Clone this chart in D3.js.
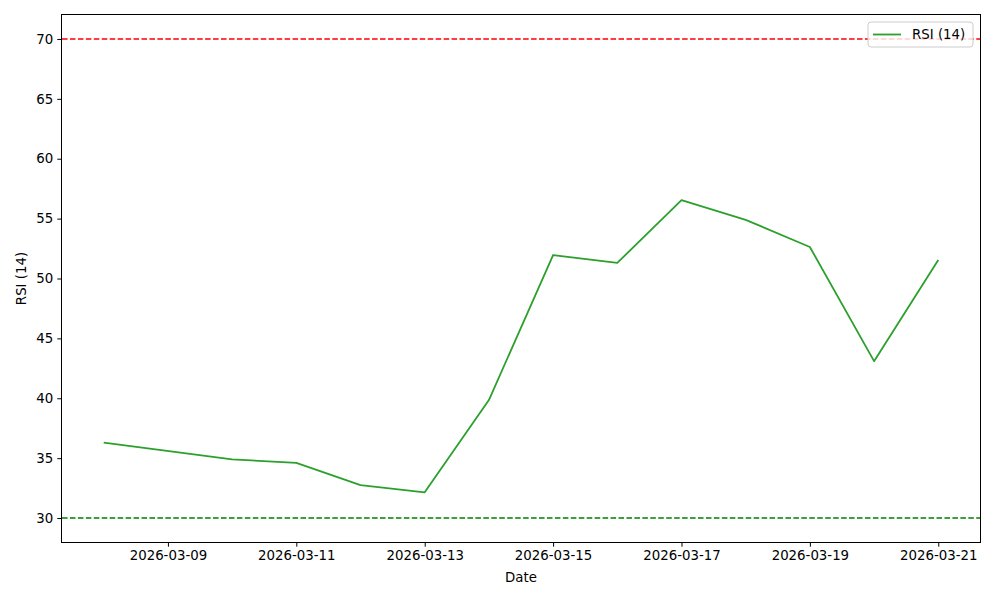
<!DOCTYPE html>
<html>
<head>
<meta charset="utf-8">
<script src="https://cdn.jsdelivr.net/npm/d3@7"></script>
<style>
  body { margin: 0; background: #fff; }
  text { font-family: "DejaVu Sans", sans-serif; }
</style>
</head>
<body>
<div id="chart"></div>
<script>
const width = 1000;
const height = 600;
const margin = {top: 15, right: 20, bottom: 58, left: 62};

// RSI readings per day
const dates = ['2026-03-08', '2026-03-10', '2026-03-11', '2026-03-12', '2026-03-13', '2026-03-14',
    '2026-03-15', '2026-03-16', '2026-03-17', '2026-03-18', '2026-03-19', '2026-03-20', '2026-03-21'];
const rsi = [36.3, 34.9, 34.6, 32.75, 32.15, 39.85, 51.96, 51.3, 56.55, 54.9, 52.63, 43.1, 51.55];
const tickDates = ['2026-03-09', '2026-03-11', '2026-03-13', '2026-03-15', '2026-03-17', '2026-03-19', '2026-03-21'];
const yTicks = [30, 35, 40, 45, 50, 55, 60, 65, 70];
const overbought = 70;
const oversold = 30;

const parse = d3.utcParse('%Y-%m-%d');
const data = dates.map((d, i) => ({date: parse(d), value: rsi[i]}));

const svg = d3.select('#chart').append('svg')
    .attr('width', width)
    .attr('height', height);

const x0 = parse(dates[0]);
const x1 = parse(dates[dates.length - 1]);
const pad = (x1 - x0) * 0.05;
const x = d3.scaleUtc()
    .domain([new Date(+x0 - pad), new Date(+x1 + pad)])
    .range([margin.left, width - margin.right]);

const y = d3.scaleLinear()
    .domain([28, 72])
    .range([height - margin.bottom, margin.top]);

// threshold lines
svg.append('line')
    .attr('x1', margin.left).attr('x2', width - margin.right)
    .attr('y1', y(overbought)).attr('y2', y(overbought))
    .attr('stroke', '#ff0000')
    .attr('stroke-width', 1.6)
    .attr('stroke-dasharray', '5.55,2.4');

svg.append('line')
    .attr('x1', margin.left).attr('x2', width - margin.right)
    .attr('y1', y(oversold)).attr('y2', y(oversold))
    .attr('stroke', '#008000')
    .attr('stroke-width', 1.6)
    .attr('stroke-dasharray', '5.55,2.4');

const line = d3.line()
    .x(d => x(d.date))
    .y(d => y(d.value));

svg.append('path')
    .datum(data)
    .attr('fill', 'none')
    .attr('stroke', '#2ca02c')
    .attr('stroke-width', 1.8)
    .attr('stroke-linejoin', 'round')
    .attr('d', line);

// axes
const xAxis = svg.append('g')
    .attr('transform', `translate(0,${height - margin.bottom})`)
    .call(d3.axisBottom(x)
        .tickValues(tickDates.map(parse))
        .tickFormat(d3.utcFormat('%Y-%m-%d'))
        .tickSizeOuter(0)
        .tickSize(4.7)
        .tickPadding(4));

const yAxis = svg.append('g')
    .attr('transform', `translate(${margin.left},0)`)
    .call(d3.axisLeft(y)
        .tickValues(yTicks)
        .tickSizeOuter(0)
        .tickSize(4.7)
        .tickPadding(4));

[xAxis, yAxis].forEach(g => {
    g.select('.domain').remove();
    g.selectAll('.tick line').attr('stroke', '#000').attr('stroke-width', 1);
    g.selectAll('.tick text')
        .attr('fill', '#000')
        .attr('font-size', '13.33px')
        .attr('font-family', 'DejaVu Sans');
});

// frame
svg.append('rect')
    .attr('x', margin.left - 0.5)
    .attr('y', margin.top - 0.5)
    .attr('width', width - margin.left - margin.right + 1)
    .attr('height', height - margin.top - margin.bottom + 1)
    .attr('fill', 'none')
    .attr('stroke', '#000')
    .attr('stroke-width', 1);

svg.append('text')
    .attr('x', (margin.left + width - margin.right) / 2)
    .attr('y', 582)
    .attr('text-anchor', 'middle')
    .attr('font-size', '13.33px')
    .text('Date');

svg.append('text')
    .attr('transform', `translate(26,${(margin.top + height - margin.bottom) / 2}) rotate(-90)`)
    .attr('text-anchor', 'middle')
    .attr('font-size', '13.33px')
    .text('RSI (14)');

// legend
const legend = svg.append('g').attr('transform', `translate(${width - margin.right - 112},22)`);
legend.append('rect')
    .attr('width', 105)
    .attr('height', 25)
    .attr('rx', 3)
    .attr('fill', '#fff')
    .attr('fill-opacity', 0.8)
    .attr('stroke', '#cccccc')
    .attr('stroke-width', 1);
legend.append('line')
    .attr('x1', 5).attr('x2', 33)
    .attr('y1', 12.5).attr('y2', 12.5)
    .attr('stroke', '#2ca02c')
    .attr('stroke-width', 1.8);
legend.append('text')
    .attr('x', 44)
    .attr('y', 17)
    .attr('font-size', '13.33px')
    .text('RSI (14)');
</script>
</body>
</html>
